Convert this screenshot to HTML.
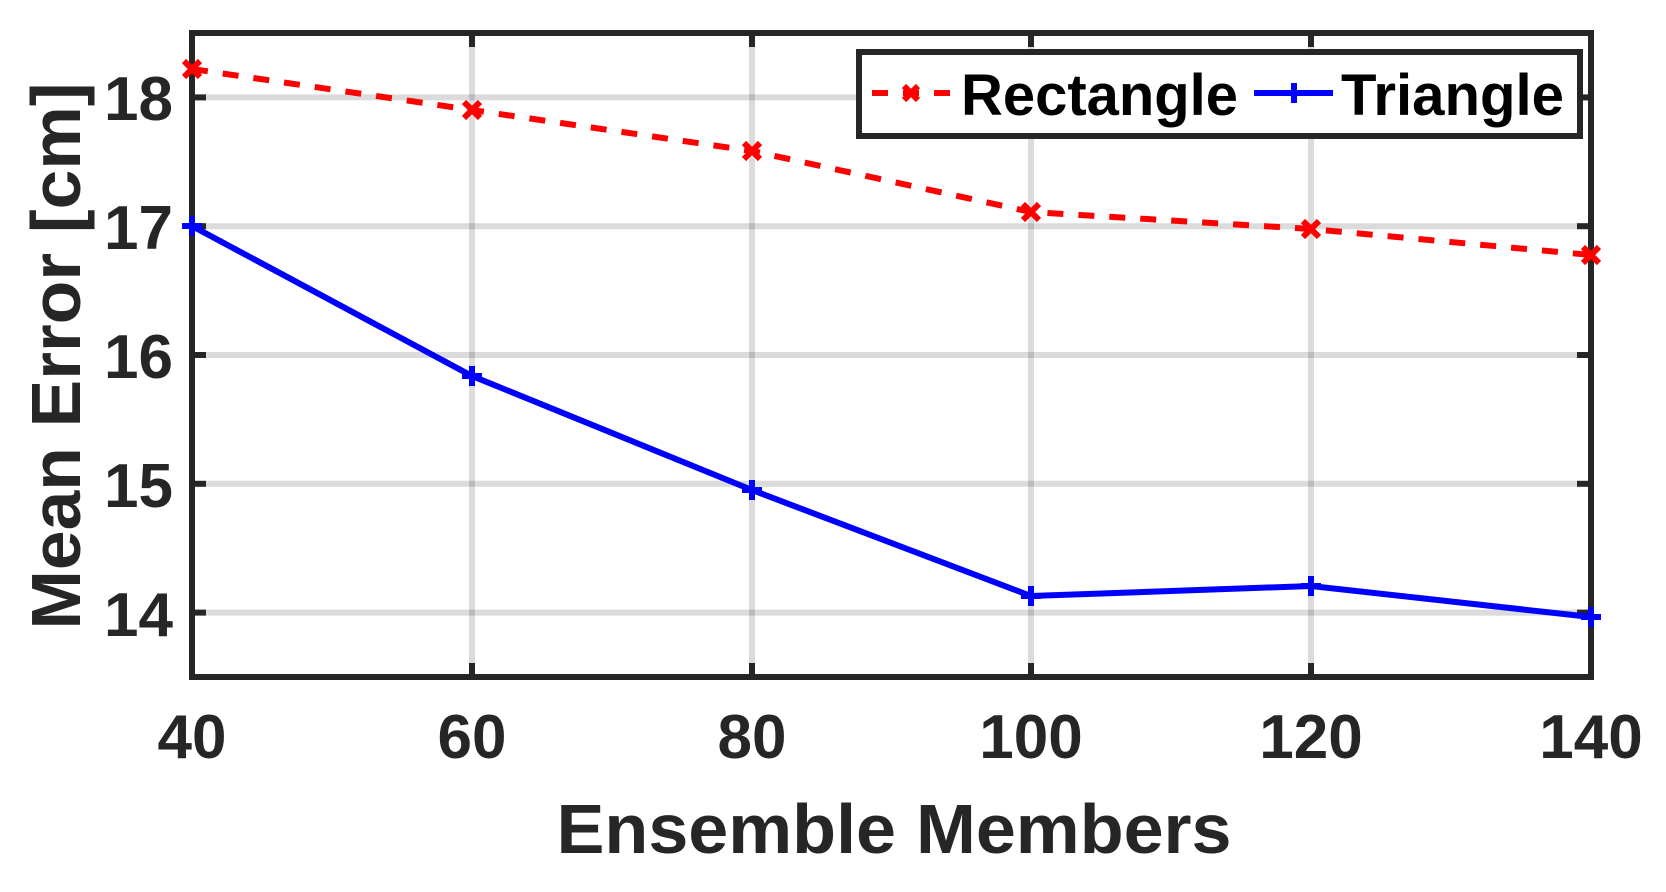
<!DOCTYPE html>
<html><head><meta charset="utf-8"><style>
html,body{margin:0;padding:0;background:#fff;}
svg{display:block;}
text{font-family:"Liberation Sans",Arial,sans-serif;font-weight:bold;fill:#262626;}
</style></head><body>
<svg width="1666" height="892" viewBox="0 0 1666 892" xmlns="http://www.w3.org/2000/svg">
<!-- grid -->
<g stroke="#000" stroke-opacity="0.14" stroke-width="6">
<line x1="472" y1="33" x2="472" y2="677"/>
<line x1="752" y1="33" x2="752" y2="677"/>
<line x1="1031" y1="33" x2="1031" y2="677"/>
<line x1="1311" y1="33" x2="1311" y2="677"/>
<line x1="192" y1="97.4" x2="1591" y2="97.4"/>
<line x1="192" y1="226.2" x2="1591" y2="226.2"/>
<line x1="192" y1="355" x2="1591" y2="355"/>
<line x1="192" y1="483.8" x2="1591" y2="483.8"/>
<line x1="192" y1="612.6" x2="1591" y2="612.6"/>
</g>
<!-- ticks -->
<g stroke="#262626" stroke-width="6">
<line x1="192" y1="97.4" x2="206" y2="97.4"/><line x1="1591" y1="97.4" x2="1577" y2="97.4"/>
<line x1="192" y1="226.2" x2="206" y2="226.2"/><line x1="1591" y1="226.2" x2="1577" y2="226.2"/>
<line x1="192" y1="355" x2="206" y2="355"/><line x1="1591" y1="355" x2="1577" y2="355"/>
<line x1="192" y1="483.8" x2="206" y2="483.8"/><line x1="1591" y1="483.8" x2="1577" y2="483.8"/>
<line x1="192" y1="612.6" x2="206" y2="612.6"/><line x1="1591" y1="612.6" x2="1577" y2="612.6"/>
<line x1="472" y1="677" x2="472" y2="663"/><line x1="472" y1="33" x2="472" y2="47"/>
<line x1="752" y1="677" x2="752" y2="663"/><line x1="752" y1="33" x2="752" y2="47"/>
<line x1="1031" y1="677" x2="1031" y2="663"/><line x1="1031" y1="33" x2="1031" y2="47"/>
<line x1="1311" y1="677" x2="1311" y2="663"/><line x1="1311" y1="33" x2="1311" y2="47"/>
</g>
<rect x="192" y="33" width="1399" height="644" fill="none" stroke="#262626" stroke-width="6"/>
<!-- series -->
<polyline fill="none" stroke="#ff0000" stroke-width="6" stroke-dasharray="16 15"
 points="192,69 472,110 752,151 1031,212 1311,229 1591,255"/>
<polyline fill="none" stroke="#0000ff" stroke-width="6"
 points="192,226 472,376 752,490 1031,596 1311,586 1591,617"/>
<g stroke="#ff0000" stroke-width="6">
<path d="M184,61l16,16M200,61l-16,16"/>
<path d="M464,102l16,16M480,102l-16,16"/>
<path d="M744,143l16,16M760,143l-16,16"/>
<path d="M1023,204l16,16M1039,204l-16,16"/>
<path d="M1303,221l16,16M1319,221l-16,16"/>
<path d="M1583,247l16,16M1599,247l-16,16"/>
</g>
<g stroke="#0000ff" stroke-width="6">
<path d="M182,226h20M192,216v20"/>
<path d="M462,376h20M472,366v20"/>
<path d="M742,490h20M752,480v20"/>
<path d="M1021,596h20M1031,586v20"/>
<path d="M1301,586h20M1311,576v20"/>
<path d="M1581,617h20M1591,607v20"/>
</g>
<!-- tick labels -->
<g font-size="62" text-anchor="end">
<text x="173" y="120">18</text>
<text x="173" y="249">17</text>
<text x="173" y="378">16</text>
<text x="173" y="507">15</text>
<text x="173" y="636">14</text>
</g>
<g font-size="62" text-anchor="middle">
<text x="192" y="758">40</text>
<text x="472" y="758">60</text>
<text x="752" y="758">80</text>
<text x="1031" y="758">100</text>
<text x="1311" y="758">120</text>
<text x="1591" y="758">140</text>
</g>
<text x="894" y="853" font-size="70" text-anchor="middle" textLength="675" lengthAdjust="spacingAndGlyphs">Ensemble Members</text>
<text transform="translate(80,356) rotate(-90)" font-size="70" text-anchor="middle" textLength="547" lengthAdjust="spacingAndGlyphs">Mean Error [cm]</text>
<!-- legend -->
<rect x="859" y="52" width="721" height="84" fill="#fff" stroke="#262626" stroke-width="6"/>
<line x1="872" y1="93" x2="952" y2="93" stroke="#ff0000" stroke-width="6" stroke-dasharray="16 15" stroke-dashoffset="0"/>
<path d="M904,86l14,14M918,86l-14,14" stroke="#ff0000" stroke-width="6"/>
<text x="961" y="115" font-size="58" style="fill:#000" textLength="277" lengthAdjust="spacingAndGlyphs">Rectangle</text>
<line x1="1254" y1="93" x2="1333" y2="93" stroke="#0000ff" stroke-width="6"/>
<path d="M1294,83v20" stroke="#0000ff" stroke-width="6"/>
<text x="1341" y="115" font-size="58" style="fill:#000" textLength="223" lengthAdjust="spacingAndGlyphs">Triangle</text>
</svg>
</body></html>
